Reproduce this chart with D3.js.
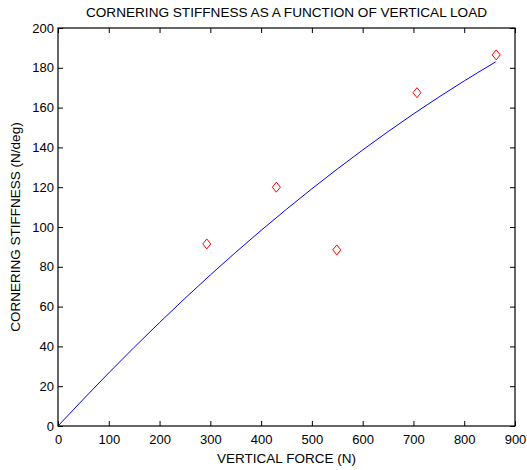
<!DOCTYPE html>
<html>
	<head>
		<style>
			body { margin: 0; background: #fff; }
			text { font-family: "Liberation Sans", Arial, sans-serif; fill: #000; }
		</style>
	</head>
	<body>
		<script src="https://cdn.jsdelivr.net/npm/d3@7/dist/d3.min.js"></script>
		<div id="canvas"></div>
		<script>
				var width = 527;
				var height = 470;

				// measured points (vertical force N, cornering stiffness N/deg)
				var load_points = [293, 430, 549, 707, 863];
				var stiffness_points = [91.5, 120, 88.5, 167.5, 186.5];

				// fitted curve
				var curve_load = [0, 100, 200, 300, 400, 500, 600, 700, 800, 862];
				var curve_stiffness = [0, 26.7, 52, 75.9, 98.3, 119.2, 138.7, 156.8, 173.4, 183];

				var x_ticks = [0, 100, 200, 300, 400, 500, 600, 700, 800, 900];
				var y_ticks = [0, 20, 40, 60, 80, 100, 120, 140, 160, 180, 200];

				var plot_left = 58, plot_right = 515, plot_top = 28, plot_bottom = 426;

				var x = d3.scaleLinear().domain([0, 900]).range([plot_left, plot_right]);
				var y = d3.scaleLinear().domain([0, 200]).range([plot_bottom, plot_top]);

				var svg = d3.select("#canvas")
					.append("svg")
					.attr("width", width)
					.attr("height", height);

				// box
				svg.append("rect")
					.attr("x", plot_left)
					.attr("y", plot_top)
					.attr("width", plot_right - plot_left)
					.attr("height", plot_bottom - plot_top)
					.style("fill", "none")
					.style("stroke", "#000")
					.style("stroke-width", 1.2);

				var tick_len = 5;

				svg.append("g")
					.attr("transform", "translate(0," + plot_bottom + ")")
					.call(d3.axisBottom(x).tickValues(x_ticks).tickSizeInner(-tick_len).tickSizeOuter(0).tickPadding(9));
				svg.append("g")
					.attr("transform", "translate(0," + plot_top + ")")
					.call(d3.axisTop(x).tickValues(x_ticks).tickSizeInner(-tick_len).tickSizeOuter(0).tickFormat(""));
				svg.append("g")
					.attr("transform", "translate(" + plot_left + ",0)")
					.call(d3.axisLeft(y).tickValues(y_ticks).tickSizeInner(-tick_len).tickSizeOuter(0).tickPadding(4));
				svg.append("g")
					.attr("transform", "translate(" + plot_right + ",0)")
					.call(d3.axisRight(y).tickValues(y_ticks).tickSizeInner(-tick_len).tickSizeOuter(0).tickFormat(""));

				svg.selectAll(".domain").remove();
				svg.selectAll(".tick line").style("stroke", "#000");
				svg.selectAll(".tick text")
					.style("font-family", "Liberation Sans, Arial, sans-serif")
					.style("font-size", "13px")
					.style("fill", "#000");

				// curve
				var line = d3.line()
					.x(function (d, i) { return x(curve_load[i]); })
					.y(function (d, i) { return y(curve_stiffness[i]); })
					.curve(d3.curveMonotoneX);

				svg.append("path")
					.datum(curve_load)
					.attr("d", line)
					.style("fill", "none")
					.style("stroke", "#0000ff")
					.style("stroke-width", 1);

				// diamonds
				svg.selectAll(".marker")
					.data(load_points)
					.enter()
					.append("path")
					.attr("class", "marker")
					.attr("transform", function (d, i) { return "translate(" + x(d) + "," + y(stiffness_points[i]) + ")"; })
					.attr("d", "M0,-5L4,0L0,5L-4,0Z")
					.style("fill", "none")
					.style("stroke", "#ff0000")
					.style("stroke-width", 1);

				// labels
				svg.append("text")
					.attr("x", (plot_left + plot_right) / 2)
					.attr("y", 17)
					.attr("text-anchor", "middle")
					.style("font-size", "13.6px")
					.text("CORNERING STIFFNESS AS A FUNCTION OF VERTICAL LOAD");

				svg.append("text")
					.attr("x", (plot_left + plot_right) / 2)
					.attr("y", 463)
					.attr("text-anchor", "middle")
					.style("font-size", "13.5px")
					.text("VERTICAL FORCE (N)");

				svg.append("text")
					.attr("transform", "translate(20," + (plot_top + plot_bottom) / 2 + ") rotate(-90)")
					.attr("text-anchor", "middle")
					.style("font-size", "13.5px")
					.text("CORNERING STIFFNESS (N/deg)");
		</script>
	</body>
</html>
